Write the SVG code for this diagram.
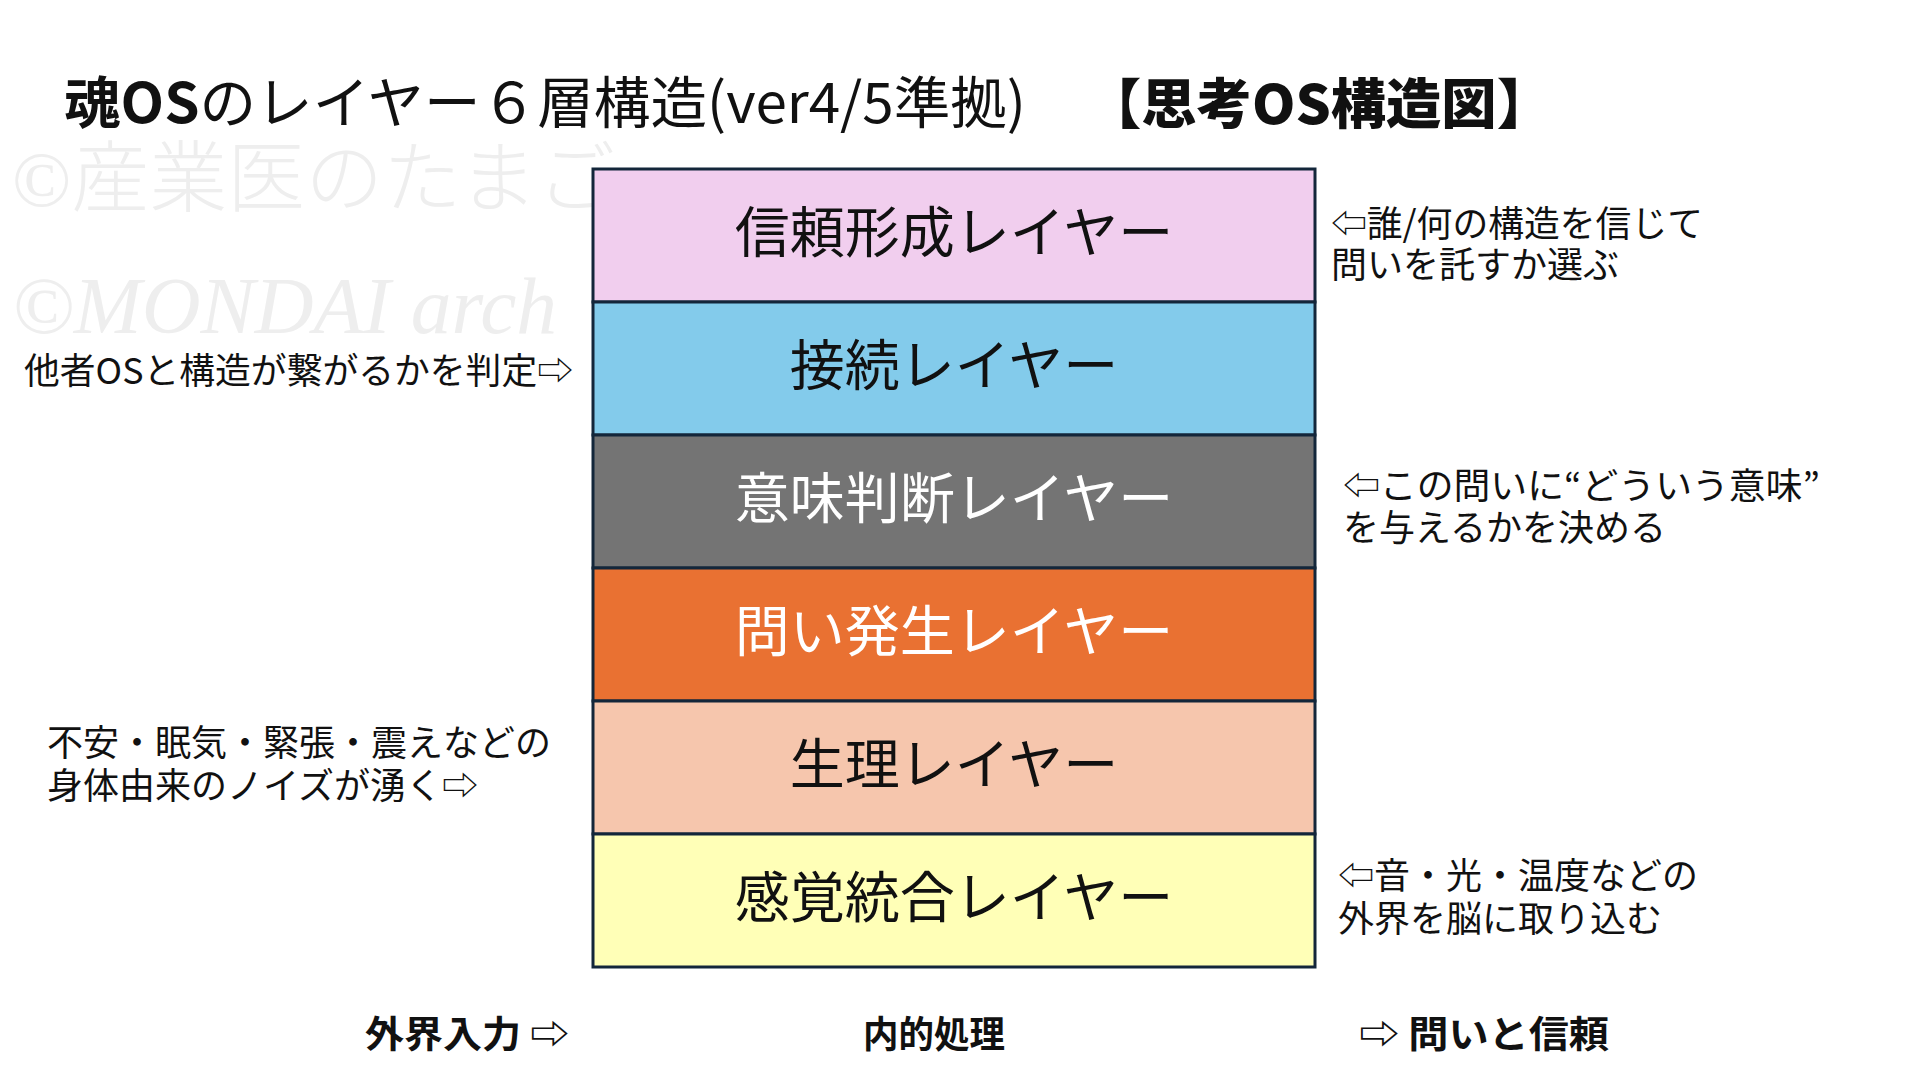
<svg xmlns="http://www.w3.org/2000/svg" width="1920" height="1080" viewBox="0 0 1920 1080">
<style>
.jp{font-family:"Noto Sans CJK JP","Noto Sans",sans-serif;}
.side{font-family:"Noto Sans CJK JP","Noto Sans",sans-serif;font-size:36px;fill:#111;}
.layer{stroke:#13263a;stroke-width:3;}
.lbl{font-family:"Noto Sans CJK JP","Noto Sans",sans-serif;font-size:55px;text-anchor:middle;}
.wm{fill:#eeeeee;}
.foot{font-family:"Noto Sans CJK JP","Noto Sans",sans-serif;font-size:37px;font-weight:700;fill:#111;}
</style>
<rect width="1920" height="1080" fill="#ffffff"/>
<g id="watermarks">
<text class="wm" x="12" y="206" font-family="'Liberation Serif','Noto Sans CJK JP',serif" font-size="78" font-weight="300">©産業医のたまご</text>
<text class="wm" x="12" y="333" font-family="'Liberation Serif',serif" font-size="80" font-style="italic" textLength="545" lengthAdjust="spacingAndGlyphs">©MONDAI arch</text>
</g>
<g id="title">
<text class="jp" x="64" y="123" font-size="56" fill="#111" textLength="962" lengthAdjust="spacingAndGlyphs"><tspan font-weight="700">魂OS</tspan>のレイヤー６層構造(ver4/5準拠)</text>
<text class="jp" x="1086" y="124" font-size="54" font-weight="900" fill="#111" textLength="466" lengthAdjust="spacingAndGlyphs">【思考OS構造図】</text>
</g>
<g id="layer-trust">
<rect class="layer" x="593" y="169" width="722" height="133" fill="#F1CEEE"/>
<text class="lbl" x="954" y="252" fill="#111">信頼形成レイヤー</text>
</g>
<g id="layer-connect">
<rect class="layer" x="593" y="302" width="722" height="133" fill="#83CBEB"/>
<text class="lbl" x="954" y="385" fill="#111">接続レイヤー</text>
</g>
<g id="layer-meaning">
<rect class="layer" x="593" y="435" width="722" height="133" fill="#747474"/>
<text class="lbl" x="954" y="518" fill="#ffffff">意味判断レイヤー</text>
</g>
<g id="layer-question">
<rect class="layer" x="593" y="568" width="722" height="133" fill="#E97132"/>
<text class="lbl" x="954" y="651" fill="#ffffff">問い発生レイヤー</text>
</g>
<g id="layer-physio">
<rect class="layer" x="593" y="701" width="722" height="133" fill="#F6C6AD"/>
<text class="lbl" x="954" y="784" fill="#111">生理レイヤー</text>
</g>
<g id="layer-sensory">
<rect class="layer" x="593" y="834" width="722" height="133" fill="#FFFFB7"/>
<text class="lbl" x="954" y="917" fill="#111">感覚統合レイヤー</text>
</g>
<g id="note-trust">
<text class="side"><tspan x="1331" y="237" textLength="372" lengthAdjust="spacingAndGlyphs">⇦誰/何の構造を信じて</tspan><tspan x="1331" y="278">問いを託すか選ぶ</tspan></text>
</g>
<g id="note-connect">
<text class="side" x="24" y="384" textLength="549" lengthAdjust="spacingAndGlyphs">他者OSと構造が繋がるかを判定⇨</text>
</g>
<g id="note-meaning">
<text class="side"><tspan x="1343" y="499" textLength="477" lengthAdjust="spacingAndGlyphs">⇦この問いに“どういう意味”</tspan><tspan x="1343" y="541">を与えるかを決める</tspan></text>
</g>
<g id="note-physio">
<text class="side"><tspan x="47" y="756">不安・眠気・緊張・震えなどの</tspan><tspan x="47" y="799">身体由来のノイズが湧く⇨</tspan></text>
</g>
<g id="note-sensory">
<text class="side"><tspan x="1338" y="889">⇦音・光・温度などの</tspan><tspan x="1338" y="932">外界を脳に取り込む</tspan></text>
</g>
<g id="footer">
<text class="foot" x="365" y="1048" textLength="204" lengthAdjust="spacingAndGlyphs">外界入力 ⇨</text>
<text class="foot" x="863" y="1048" textLength="142" lengthAdjust="spacingAndGlyphs">内的処理</text>
<text class="foot" x="1359" y="1048" textLength="250" lengthAdjust="spacingAndGlyphs">⇨ 問いと信頼</text>
</g>
</svg>
